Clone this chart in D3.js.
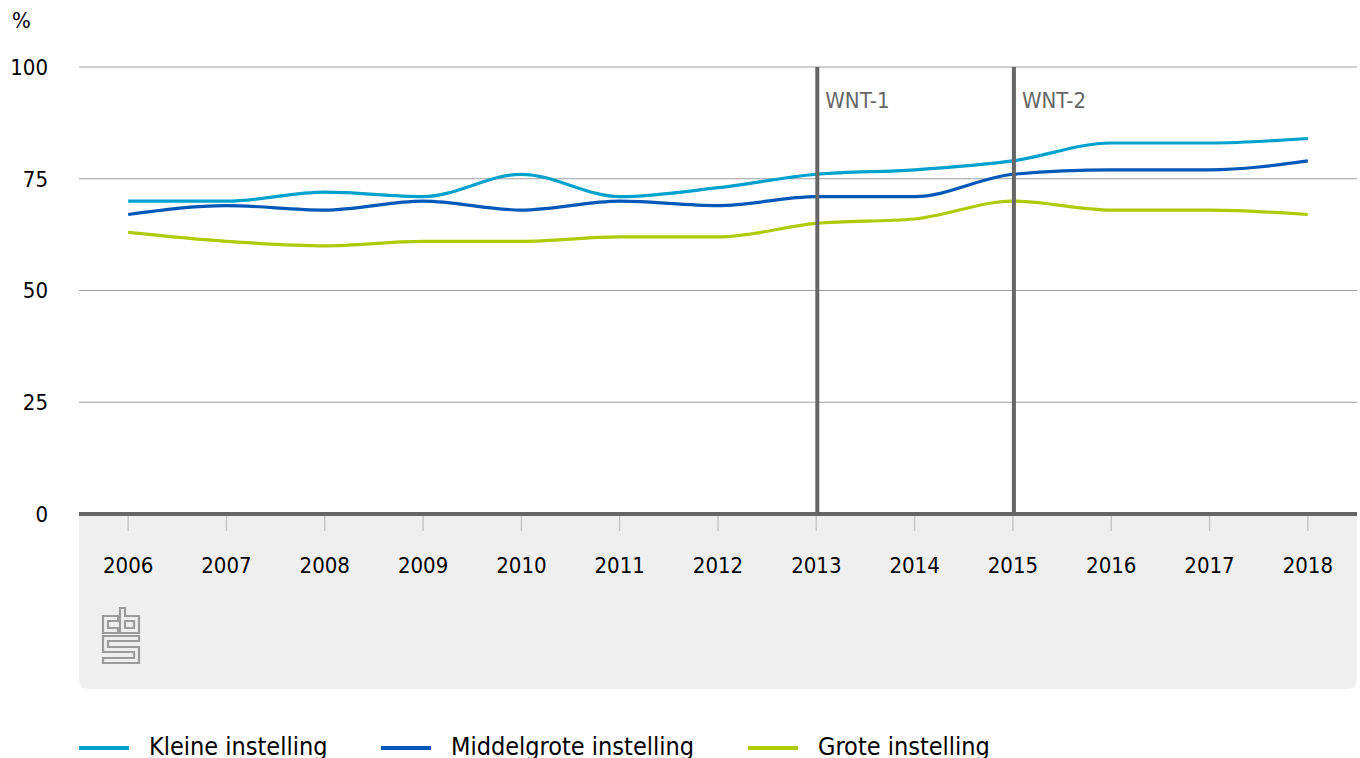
<!DOCTYPE html>
<html>
<head>
<meta charset="utf-8">
<script src="https://cdn.jsdelivr.net/npm/d3@7"></script>
<style>
  body { margin: 0; background: #fff; }
  text { font-family: "DejaVu Sans Condensed", "DejaVu Sans", sans-serif; }
</style>
</head>
<body>
<div id="chart"></div>
<script>
// data
var years = ["2006","2007","2008","2009","2010","2011","2012","2013","2014","2015","2016","2017","2018"];
var kleine = [70, 70, 72, 71, 76, 71, 73, 76, 77, 79, 83, 83, 84];
var middelgroot = [67, 69, 68, 70, 68, 70, 69, 71, 71, 76, 77, 77, 79];
var groot = [63, 61, 60, 61, 61, 62, 62, 65, 66, 70, 68, 68, 67];
var yTicks = [0, 25, 50, 75, 100];
var markers = [{ year: "2013", label: "WNT-1" }, { year: "2015", label: "WNT-2" }];
var seriesNames = ["Kleine instelling", "Middelgrote instelling", "Grote instelling"];
var seriesColors = ["#00a1cd", "#0058b8", "#afcb05"];

var W = 1360, H = 758;
var pLeft = 79, pRight = 1357, pTop = 67, pBottom = 514;

var svg = d3.select("#chart").append("svg")
    .attr("width", W)
    .attr("height", H);

var x = d3.scalePoint().domain(years).range([pLeft, pRight]).padding(0.5);
var y = d3.scaleLinear().domain([0, 100]).range([pBottom, pTop]);

// grey panel under the axis, rounded bottom corners
var pb = 689, r = 10;
svg.append("path")
    .attr("d", "M" + pLeft + "," + pBottom + " H" + pRight + " V" + (pb - r) +
         " Q" + pRight + "," + pb + " " + (pRight - r) + "," + pb +
         " H" + (pLeft + r) + " Q" + pLeft + "," + pb + " " + pLeft + "," + (pb - r) + " Z")
    .attr("fill", "#efefef");

// gridlines
svg.append("g").selectAll("line")
    .data(yTicks.filter(function(d){ return d > 0; }))
    .enter().append("line")
    .attr("x1", pLeft).attr("x2", pRight)
    .attr("y1", function(d){ return y(d); })
    .attr("y2", function(d){ return y(d); })
    .attr("stroke", "#9f9f9f")
    .attr("stroke-width", 1.2);

// y tick labels
svg.append("g").selectAll("text")
    .data(yTicks)
    .enter().append("text")
    .attr("x", 48)
    .attr("y", function(d){ return y(d); })
    .attr("dy", "0.36em")
    .attr("text-anchor", "end")
    .attr("font-size", "22px")
    .attr("fill", "#000")
    .text(function(d){ return d; });

svg.append("text")
    .attr("x", 12).attr("y", 28)
    .attr("font-size", "22px")
    .attr("fill", "#000")
    .text("%");

// x ticks and labels
var xa = svg.append("g");
xa.selectAll("line")
    .data(years)
    .enter().append("line")
    .attr("x1", function(d){ return x(d); })
    .attr("x2", function(d){ return x(d); })
    .attr("y1", pBottom).attr("y2", pBottom + 17)
    .attr("stroke", "#c8c8c8")
    .attr("stroke-width", 1.5);
xa.selectAll("text")
    .data(years)
    .enter().append("text")
    .attr("x", function(d){ return x(d); })
    .attr("y", 573)
    .attr("text-anchor", "middle")
    .attr("font-size", "22px")
    .attr("fill", "#000")
    .text(function(d){ return d; });

// baseline
svg.append("line")
    .attr("x1", pLeft).attr("x2", pRight)
    .attr("y1", y(0)).attr("y2", y(0))
    .attr("stroke", "#666")
    .attr("stroke-width", 4);

// series lines
var line = d3.line()
    .x(function(d, i){ return x(years[i]); })
    .y(function(d){ return y(d); })
    .curve(d3.curveMonotoneX);

[kleine, middelgroot, groot].forEach(function(s, i) {
  svg.append("path")
      .attr("d", line(s))
      .attr("fill", "none")
      .attr("stroke", seriesColors[i])
      .attr("stroke-width", 3.2);
});

// WNT markers
markers.forEach(function(m) {
  svg.append("line")
      .attr("x1", x(m.year) + 1).attr("x2", x(m.year) + 1)
      .attr("y1", y(100)).attr("y2", y(0))
      .attr("stroke", "#666")
      .attr("stroke-width", 4);
  svg.append("text")
      .attr("x", x(m.year) + 9)
      .attr("y", 108)
      .attr("font-size", "22px")
      .attr("fill", "#666")
      .text(m.label);
});

// cbs logo
var logo = svg.append("g")
    .attr("transform", "translate(102,607)")
    .attr("fill", "none")
    .attr("stroke", "#9b9b9b")
    .attr("stroke-width", 2.2);
logo.append("path").attr("d", "M16,9 H1 V26 H16 V21 H6 V14 H16 Z");
logo.append("path").attr("d", "M18,1 H23 V9 H37 V26 H18 Z M23,14 H32 V21 H23 Z");
logo.append("path").attr("d", "M1,29 H37 V34 H6 V40 H37 V56 H1 V51 H32 V45 H1 Z");

// legend
var legX = [79, 381, 748];
var leg = svg.append("g");
seriesNames.forEach(function(n, i) {
  leg.append("line")
      .attr("x1", legX[i]).attr("x2", legX[i] + 50)
      .attr("y1", 748).attr("y2", 748)
      .attr("stroke", seriesColors[i])
      .attr("stroke-width", 4);
  leg.append("text")
      .attr("x", legX[i] + 70)
      .attr("y", 755)
      .attr("font-size", "25px")
      .attr("fill", "#000")
      .text(n);
});
</script>
</body>
</html>
